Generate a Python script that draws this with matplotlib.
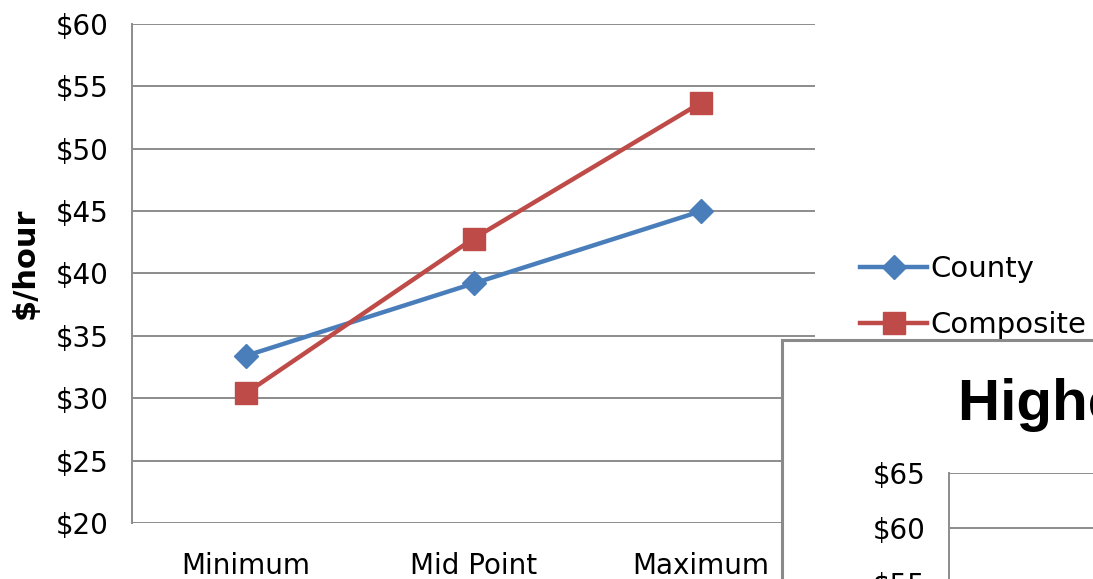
import matplotlib
matplotlib.use("Agg")
import matplotlib.pyplot as plt
from matplotlib.patches import Rectangle

plt.rcParams['font.family'] = ['DejaVu Sans']

categories = ["Minimum", "Mid Point", "Maximum"]
county = [33.4, 39.2, 45.0]
composite = [30.4, 42.8, 53.7]
y_ticks = [20, 25, 30, 35, 40, 45, 50, 55, 60]
inset_ticks = [20, 25, 30, 35, 40, 45, 50, 55, 60, 65]

W, H = 1093, 579
fig = plt.figure(figsize=(W / 100, H / 100), dpi=100)

def box(x0, y0, x1, y1):
    return [x0 / W, 1 - y1 / H, (x1 - x0) / W, (y1 - y0) / H]

grid_c = "#8c8c8c"
blue = "#4a7ebb"
red = "#be4b48"

ax = fig.add_axes(box(132, 24, 815, 523))
x = list(range(len(categories)))
ax.plot(x, county, color=blue, lw=3.2, marker="D", ms=12, label="County", zorder=3)
ax.plot(x, composite, color=red, lw=3.2, marker="s", ms=16, label="Composite", zorder=3)
ax.set_xlim(-0.5, 2.5)
ax.set_ylim(20, 60)
ax.set_yticks(y_ticks)
ax.set_yticklabels([f"${v}" for v in y_ticks], fontsize=20)
ax.set_xticks(x)
ax.set_xticklabels(categories, fontsize=20)
ax.tick_params(length=0, pad=17)
ax.tick_params(axis="x", pad=21)
ax.yaxis.grid(True, color=grid_c, lw=1.4)
ax.set_axisbelow(True)
for s in ["top", "right", "bottom"]:
    ax.spines[s].set_visible(False)
ax.spines["left"].set_color(grid_c)
ax.spines["left"].set_linewidth(1.4)
ax.set_ylabel("$/hour", fontsize=22, fontweight="bold")
ax.yaxis.set_label_coords(-0.157, 0.52)
ax.yaxis.label.set_va("center")

fig.legend(loc="center left", bbox_to_anchor=(860 / W, 1 - 297 / H), frameon=False,
           fontsize=21, handlelength=2.3, handletextpad=0.1, labelspacing=0.95,
           borderpad=0, borderaxespad=0)

# second chart panel overlapping the lower right corner
panel = Rectangle((782 / W, -0.2), 0.5, 1 - 340 / H + 0.2, transform=fig.transFigure,
                  facecolor="white", edgecolor="#8a8a8a", lw=2.2, zorder=10)
fig.add_artist(panel)
fig.text(958 / W, 1 - 420 / H, "Higher Education", fontsize=42, fontweight="bold",
         family="Liberation Sans", ha="left", va="baseline", zorder=11)

ax2 = fig.add_axes(box(949, 473, 1400, 968), zorder=12)
ax2.set_ylim(20, 65)
ax2.set_xlim(0, 1)
ax2.set_yticks(inset_ticks)
ax2.set_yticklabels([f"${v}" for v in inset_ticks], fontsize=20)
ax2.set_xticks([])
ax2.tick_params(length=0, pad=17)
ax2.yaxis.grid(True, color=grid_c, lw=1.4)
for s in ["top", "right", "bottom"]:
    ax2.spines[s].set_visible(False)
ax2.spines["left"].set_color(grid_c)
ax2.spines["left"].set_linewidth(1.4)

fig.savefig("out.png", dpi=100)
